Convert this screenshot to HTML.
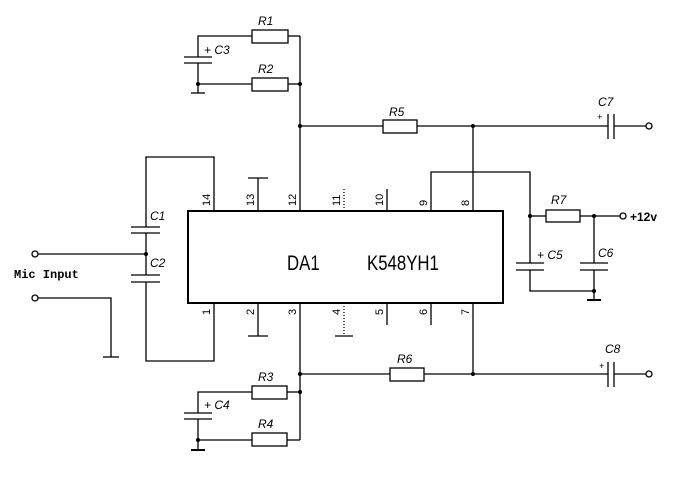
<!DOCTYPE html>
<html><head><style>body{margin:0;background:#fff}svg{display:block}text{font-family:"Liberation Sans",sans-serif;font-style:italic;font-size:12px}</style></head><body>
<svg width="699" height="482" viewBox="0 0 699 482" stroke="#000" stroke-width="1.3" fill="none">
<rect x="188" y="211" width="315" height="92" stroke-width="2"/>
<g fill="#000" stroke="none">
<text transform="translate(287,270) scale(0.8,1)" style="font-style:normal;font-size:21px">DA1</text>
<text transform="translate(367,270) scale(0.8,1)" style="font-style:normal;font-size:21px">K548YH1</text>
</g>
<g fill="#000" stroke="none">
<text transform="translate(210,206) rotate(-90)" style="font-style:normal;font-size:11px">14</text>
<text transform="translate(254,206) rotate(-90)" style="font-style:normal;font-size:11px">13</text>
<text transform="translate(296,206) rotate(-90)" style="font-style:normal;font-size:11px">12</text>
<text transform="translate(340,206) rotate(-90)" style="font-style:normal;font-size:11px">11</text>
<text transform="translate(383,206) rotate(-90)" style="font-style:normal;font-size:11px">10</text>
<text transform="translate(427,206) rotate(-90)" style="font-style:normal;font-size:11px">9</text>
<text transform="translate(469,206) rotate(-90)" style="font-style:normal;font-size:11px">8</text>
<text transform="translate(210,315) rotate(-90)" style="font-style:normal;font-size:11px">1</text>
<text transform="translate(254,315) rotate(-90)" style="font-style:normal;font-size:11px">2</text>
<text transform="translate(296,315) rotate(-90)" style="font-style:normal;font-size:11px">3</text>
<text transform="translate(340,315) rotate(-90)" style="font-style:normal;font-size:11px">4</text>
<text transform="translate(383,315) rotate(-90)" style="font-style:normal;font-size:11px">5</text>
<text transform="translate(427,315) rotate(-90)" style="font-style:normal;font-size:11px">6</text>
<text transform="translate(469,315) rotate(-90)" style="font-style:normal;font-size:11px">7</text>
</g>
<!-- left loop -->
<polyline points="214,211 214,157 146,157 146,227"/>
<line x1="131" y1="227" x2="160" y2="227"/><line x1="131" y1="233" x2="160" y2="233"/>
<line x1="146" y1="233" x2="146" y2="275"/>
<line x1="131" y1="275" x2="160" y2="275"/><line x1="131" y1="282" x2="160" y2="282"/>
<polyline points="146,282 146,361 214,361 214,303"/>
<line x1="38" y1="254" x2="146" y2="254"/>
<polyline points="38,298 111,298 111,357"/><line x1="103" y1="357" x2="119" y2="357"/>
<circle cx="35" cy="254" r="3" fill="#fff"/><circle cx="35" cy="298" r="3" fill="#fff"/>
<text x="14" y="278" fill="#000" stroke="none" style="font-family:'Liberation Mono',monospace;font-style:normal;font-weight:bold;font-size:12px">Mic Input</text>
<!-- pins -->
<line x1="258" y1="211" x2="258" y2="178"/><line x1="248" y1="178" x2="268" y2="178"/>
<line x1="344" y1="211" x2="344" y2="189" stroke-dasharray="1,2"/>
<line x1="387" y1="211" x2="387" y2="189"/>
<line x1="258" y1="303" x2="258" y2="336"/><line x1="248" y1="336" x2="268" y2="336"/>
<line x1="344" y1="303" x2="344" y2="336" stroke-dasharray="1,2"/><line x1="335" y1="336" x2="353" y2="336"/>
<line x1="387" y1="303" x2="387" y2="325"/><line x1="431" y1="303" x2="431" y2="325"/>
<!-- top -->
<line x1="300" y1="211" x2="300" y2="36"/><line x1="288" y1="36" x2="300" y2="36"/>
<polyline points="252,36 198,36 198,57"/>
<line x1="184" y1="57" x2="212" y2="57"/><line x1="184" y1="63" x2="212" y2="63"/>
<line x1="198" y1="63" x2="198" y2="93"/><line x1="191" y1="93" x2="205" y2="93"/>
<line x1="198" y1="84" x2="252" y2="84"/><line x1="288" y1="84" x2="300" y2="84"/>
<rect x="252" y="30" width="36" height="13"/><rect x="252" y="78" width="36" height="13"/>
<line x1="300" y1="126" x2="383" y2="126"/><rect x="383" y="120" width="34" height="13"/>
<line x1="417" y1="126" x2="608" y2="126"/><line x1="608" y1="114" x2="608" y2="139"/><line x1="614" y1="114" x2="614" y2="139"/>
<line x1="614" y1="126" x2="646" y2="126"/><circle cx="649" cy="126" r="3" fill="#fff"/>
<line x1="473" y1="211" x2="473" y2="126"/>
<polyline points="431,211 431,172 530,172 530,263"/>
<line x1="530" y1="216" x2="546" y2="216"/><rect x="546" y="210" width="34" height="12"/>
<line x1="580" y1="216" x2="620" y2="216"/><circle cx="623" cy="216" r="3" fill="#fff"/>
<line x1="516" y1="263" x2="544" y2="263"/><line x1="516" y1="270" x2="544" y2="270"/>
<line x1="580" y1="263" x2="608" y2="263"/><line x1="580" y1="270" x2="608" y2="270"/>
<line x1="594" y1="216" x2="594" y2="263"/>
<polyline points="530,270 530,291 594,291"/><line x1="594" y1="270" x2="594" y2="300"/><line x1="587" y1="300" x2="601" y2="300" stroke-width="2"/>
<!-- bottom -->
<line x1="300" y1="303" x2="300" y2="440"/><line x1="287" y1="440" x2="300" y2="440"/><line x1="287" y1="392" x2="300" y2="392"/>
<polyline points="252,392 198,392 198,413"/>
<line x1="184" y1="413" x2="212" y2="413"/><line x1="184" y1="419" x2="212" y2="419"/>
<line x1="198" y1="419" x2="198" y2="450"/><line x1="191" y1="450" x2="205" y2="450" stroke-width="2"/>
<line x1="198" y1="440" x2="252" y2="440"/>
<rect x="252" y="386" width="35" height="13"/><rect x="252" y="433" width="35" height="13"/>
<line x1="300" y1="374" x2="390" y2="374"/><rect x="390" y="368" width="34" height="13"/>
<line x1="424" y1="374" x2="608" y2="374"/><line x1="473" y1="303" x2="473" y2="374"/>
<line x1="608" y1="362" x2="608" y2="387"/><line x1="614" y1="362" x2="614" y2="387"/>
<line x1="614" y1="374" x2="646" y2="374"/><circle cx="649" cy="374" r="3" fill="#fff"/>
<g fill="#000" stroke="none">
<circle cx="146" cy="254" r="2"/><circle cx="300" cy="84" r="2"/><circle cx="198" cy="84" r="2"/><circle cx="300" cy="126" r="2"/><circle cx="473" cy="126" r="2"/>
<circle cx="530" cy="216" r="2"/><circle cx="594" cy="216" r="2"/><circle cx="594" cy="291" r="2"/>
<circle cx="300" cy="374" r="2"/><circle cx="473" cy="374" r="2"/><circle cx="300" cy="392" r="2"/><circle cx="198" cy="440" r="2"/>
<text x="150" y="220">C1</text><text x="150" y="267">C2</text>
<text x="258" y="25">R1</text><text x="258" y="73">R2</text><text x="204" y="54">+ C3</text>
<text x="389" y="116">R5</text><text x="598" y="106">C7</text><text x="597" y="120" style="font-size:9px">+</text>
<text x="551" y="204">R7</text><text x="630" y="221" style="font-style:normal;font-size:12px;font-weight:bold">+12v</text>
<text x="537" y="259">+ C5</text><text x="598" y="257">C6</text>
<text x="258" y="381">R3</text><text x="258" y="428">R4</text><text x="204" y="409">+ C4</text>
<text x="397" y="363">R6</text><text x="605" y="353">C8</text><text x="599" y="369" style="font-size:9px">+</text>
</g>
</svg>
</body></html>
